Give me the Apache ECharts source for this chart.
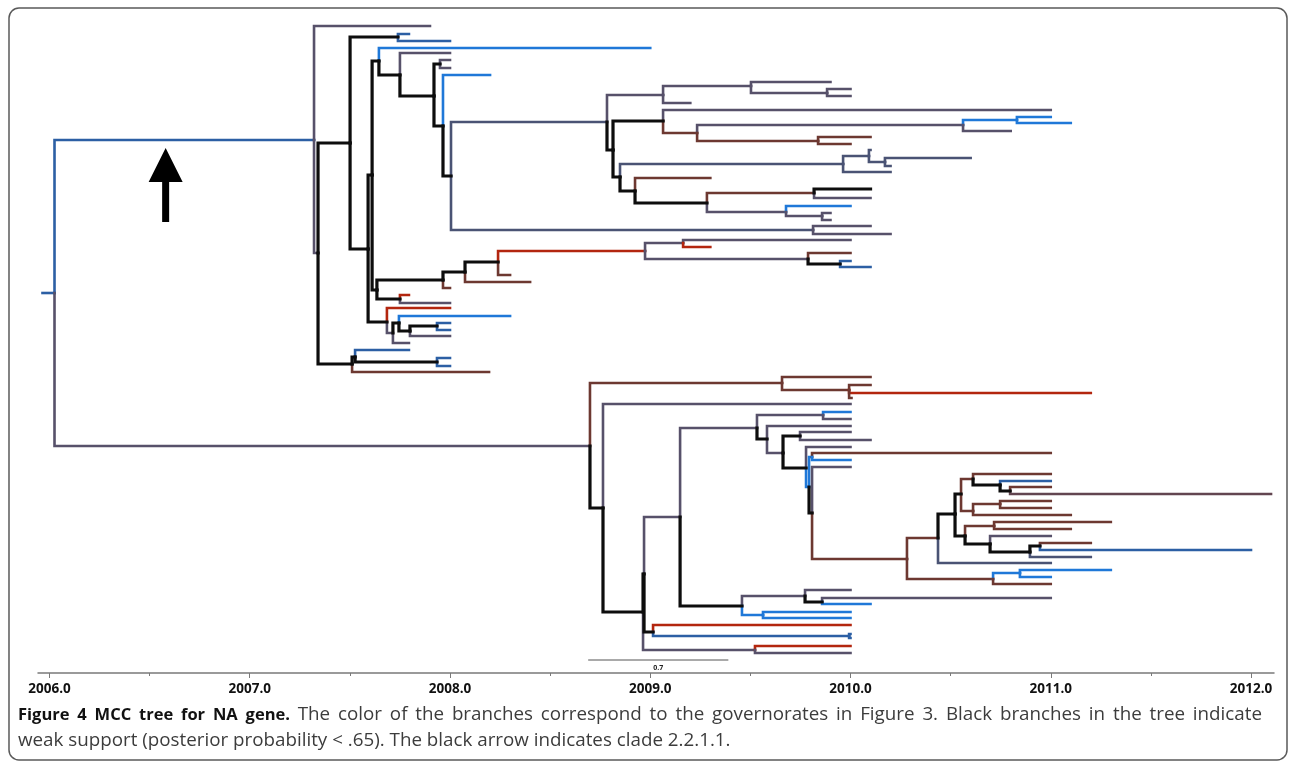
<!DOCTYPE html>
<html>
<head>
<meta charset="utf-8">
<script src="https://cdn.jsdelivr.net/npm/echarts@6/dist/echarts.min.js"></script>
<style>
html,body{margin:0;padding:0;background:#fff;}
#chart{width:1292px;height:767px;}
</style>
</head>
<body>
<div id="chart"></div>
<script>
// ---- Data (time in years, row = vertical tree position) ----
const majorYears = [2006, 2007, 2008, 2009, 2010, 2011, 2012];
const minorYears = [2006.5, 2007.5, 2008.5, 2009.5, 2010.5, 2011.5];

// governorate colour keys
const palette = {
  G: '#57516a',  // grey-purple
  N: '#4a5374',  // slate
  B: '#2c5fa4',  // dark blue
  L: '#1f78d8',  // light blue
  R: '#b3260f',  // red
  W: '#6d3831',  // brown
  M: '#624550',  // brown-grey
  K: '#0d0d0d'   // weak support (black)
};

// [id, parent, time, row, colour]
const rootNodes = [
  ['o', null, 2005.965, 293, 'B'],
  ['r', 'o', 2006.025, 293, 'B']
];
const upperClade = [
  ['A','r',2007.321,140,'B'],
  ['a1','A',2007.9,26,'G'],
  ['A2','A',2007.341,253,'G'],
  ['A3','A2',2007.501,143,'K'],
  ['A3a','A3',2007.740,37,'K'],
  ['l1','A3a',2007.795,34,'B'],
  ['l2','A3a',2008.0,41,'B'],
  ['A4','A3',2007.591,249,'K'],
  ['A5','A4',2007.611,175,'K'],
  ['A6','A5',2007.645,61,'K'],
  ['l3','A6',2009.0,48,'L'],
  ['A7','A6',2007.750,75,'K'],
  ['l4','A7',2008.0,53,'G'],
  ['A8','A7',2007.920,96,'K'],
  ['A9','A8',2007.950,64,'K'],
  ['l5','A9',2008.0,60,'G'],
  ['l6','A9',2008.0,68,'G'],
  ['A10','A8',2007.965,126,'K'],
  ['l7','A10',2008.2,75,'L'],
  ['A11','A10',2008.005,176,'K'],
  ['C','A11',2008.784,122,'N'],
  ['A12','A11',2009.813,230,'N'],
  ['l8','A12',2010.1,226,'G'],
  ['l9','A12',2010.2,234,'G'],
  ['C1','C',2009.064,95,'G'],
  ['C2','C1',2009.503,86,'G'],
  ['l10','C2',2009.9,82,'G'],
  ['C2b','C2',2009.883,93,'G'],
  ['l11','C2b',2010.0,89,'G'],
  ['l12','C2b',2010.0,96,'G'],
  ['l13','C1',2009.2,103,'G'],
  ['C3','C',2008.814,150,'K'],
  ['C4','C3',2009.064,121,'K'],
  ['l14','C4',2011.0,110,'G'],
  ['C5','C4',2009.234,133,'W'],
  ['C5a','C5',2010.562,125,'G'],
  ['C5b','C5a',2010.831,120,'L'],
  ['l15','C5b',2011.0,117,'L'],
  ['l16','C5b',2011.1,123,'L'],
  ['l17','C5a',2010.8,131,'G'],
  ['C5c','C5',2009.838,141,'W'],
  ['l18','C5c',2010.1,137,'W'],
  ['l19','C5c',2010.0,144,'W'],
  ['C6','C3',2008.849,177,'K'],
  ['C7','C6',2009.963,164,'N'],
  ['C8','C7',2010.092,156,'N'],
  ['l20','C8',2010.1,150,'N'],
  ['C9','C8',2010.172,162,'N'],
  ['l21','C9',2010.6,158,'N'],
  ['l22','C9',2010.2,166,'N'],
  ['l23','C7',2010.2,172,'N'],
  ['C10','C6',2008.924,191,'K'],
  ['l24','C10',2009.3,178,'W'],
  ['C11','C10',2009.283,203,'K'],
  ['C12','C11',2009.818,193,'W'],
  ['l25','C12',2010.1,189,'K'],
  ['l26','C12',2010.1,198,'G'],
  ['C13','C11',2009.678,212,'G'],
  ['l27','C13',2010.0,206,'L'],
  ['C14','C13',2009.858,216,'G'],
  ['l28','C14',2009.9,213,'G'],
  ['l29','C14',2009.9,220,'G'],
  ['A13','A5',2007.635,290,'K'],
  ['A14','A13',2007.965,280,'K'],
  ['A15','A14',2008.075,272,'K'],
  ['A16','A15',2008.240,262,'K'],
  ['A17','A16',2008.974,251,'R'],
  ['A18','A17',2009.164,243,'G'],
  ['l30','A18',2010.0,240,'G'],
  ['l31','A18',2009.3,247,'R'],
  ['A19','A17',2009.788,259,'G'],
  ['l32','A19',2010.0,253,'W'],
  ['A20','A19',2009.948,264,'K'],
  ['l33','A20',2010.0,261,'B'],
  ['l34','A20',2010.1,267,'B'],
  ['l35','A16',2008.3,275,'W'],
  ['l36','A15',2008.4,282,'W'],
  ['l37','A14',2008.0,288,'W'],
  ['A21','A13',2007.750,299,'K'],
  ['l38','A21',2007.795,295,'R'],
  ['l39','A21',2008.0,303,'G'],
  ['A22','A4',2007.685,322,'K'],
  ['l40','A22',2008.0,308,'R'],
  ['A23','A22',2007.715,333,'G'],
  ['A24','A23',2007.745,323,'K'],
  ['l41','A24',2008.3,316,'L'],
  ['A25','A24',2007.800,331,'K'],
  ['A26','A25',2007.935,326,'K'],
  ['l42','A26',2008.0,323,'B'],
  ['l43','A26',2008.0,330,'B'],
  ['l44','A25',2008.0,336,'G'],
  ['l45','A23',2007.795,343,'G'],
  ['A27','A2',2007.511,364,'K'],
  ['A28','A27',2007.526,357,'K'],
  ['l46','A28',2007.795,350,'B'],
  ['A29','A28',2007.935,362,'K'],
  ['l47','A29',2008.0,358,'B'],
  ['l48','A29',2008.0,366,'B'],
  ['l49','A27',2008.195,372,'W']
];
const lowerClade = [
  ['B','r',2008.699,446,'G'],
  ['B1','B',2009.658,383,'W'],
  ['l50','B1',2010.1,377,'W'],
  ['B2','B1',2009.993,390,'W'],
  ['l51','B2',2010.1,385,'W'],
  ['l52','B2',2011.2,393,'R'],
  ['l53','B2',2010.005,398,'W'],
  ['B4','B',2008.764,508,'K'],
  ['l54','B4',2010.0,404,'G'],
  ['B5','B4',2008.964,612,'K'],
  ['P','B5',2008.969,574,'K'],
  ['B7','P',2009.149,517,'G'],
  ['B8','B7',2009.533,428,'G'],
  ['B9','B8',2009.863,415,'G'],
  ['l55','B9',2010.0,412,'L'],
  ['l56','B9',2010.0,419,'G'],
  ['B10','B8',2009.583,439,'K'],
  ['l57','B10',2010.0,426,'G'],
  ['B11','B10',2009.663,453,'G'],
  ['B12','B11',2009.748,436,'K'],
  ['l58','B12',2010.0,432,'G'],
  ['l59','B12',2010.1,440,'G'],
  ['B13','B11',2009.778,468,'K'],
  ['l60','B13',2010.0,447,'G'],
  ['B16','B13',2009.793,487,'L'],
  ['B17','B16',2009.808,457,'L'],
  ['l61','B17',2011.0,453,'W'],
  ['l62','B17',2010.0,460,'L'],
  ['B18','B16',2009.808,513,'K'],
  ['l63','B18',2010.0,467,'G'],
  ['B21','B18',2010.282,559,'W'],
  ['B22','B21',2010.437,538,'W'],
  ['B23','B22',2010.522,514,'K'],
  ['B24','B23',2010.552,494,'K'],
  ['B25','B24',2010.612,479,'W'],
  ['l64','B25',2011.0,474,'W'],
  ['B26','B25',2010.747,485,'K'],
  ['l65','B26',2011.0,481,'B'],
  ['B27','B26',2010.797,491,'K'],
  ['l66','B27',2011.0,487,'W'],
  ['l67','B27',2012.1,494,'M'],
  ['B28','B24',2010.612,511,'W'],
  ['B29','B28',2010.747,504,'W'],
  ['l68','B29',2011.0,501,'W'],
  ['l69','B29',2011.0,508,'W'],
  ['l70','B28',2011.1,515,'W'],
  ['B30','B23',2010.572,536,'K'],
  ['B31','B30',2010.717,526,'W'],
  ['l71','B31',2011.3,522,'W'],
  ['l72','B31',2011.1,529,'W'],
  ['B32','B30',2010.697,544,'K'],
  ['l73','B32',2011.0,536,'G'],
  ['B33','B32',2010.896,552,'K'],
  ['B34','B33',2010.946,546,'K'],
  ['l74','B34',2011.2,543,'W'],
  ['l75','B34',2012.0,550,'B'],
  ['l76','B33',2011.2,557,'N'],
  ['l77','B22',2011.0,563,'N'],
  ['B35','B21',2010.712,579,'W'],
  ['B36','B35',2010.846,573,'L'],
  ['l78','B36',2011.3,570,'L'],
  ['l79','B36',2011.0,577,'L'],
  ['l80','B35',2011.0,584,'W'],
  ['B37','B7',2009.458,606,'K'],
  ['B38','B37',2009.773,596,'G'],
  ['l81','B38',2010.0,590,'G'],
  ['B39','B38',2009.858,602,'K'],
  ['l82','B39',2011.0,598,'G'],
  ['l83','B39',2010.1,604,'L'],
  ['B40','B37',2009.563,615,'L'],
  ['l84','B40',2010.0,612,'L'],
  ['l85','B40',2010.0,618,'L'],
  ['B41','P',2009.014,632,'K'],
  ['l86','B41',2010.0,625,'R'],
  ['B42','B41',2009.993,636,'B'],
  ['l87','B42',2010.0,634,'B'],
  ['l88','B42',2010.0,638,'B'],
  ['B43','B5',2009.523,650,'G'],
  ['l89','B43',2010.0,646,'R'],
  ['l90','B43',2010.0,653,'G']
];

// annotations (data coordinates)
const arrowAt = { time: 2006.58, rowTip: 148, rowBase: 222 };
const scaleBar = { from: 2008.69, to: 2009.39, row: 660, label: '0.7' };
const captionBold = 'Figure 4 MCC tree for NA gene.';
const captionRest1 = 'The color of the branches correspond to the governorates in Figure 3. Black branches in the tree indicate';
const captionLine2 = 'weak support (posterior probability < .65). The black arrow indicates clade 2.2.1.1.';

// ---- Build ----
const allNodes = rootNodes.concat(upperClade, lowerClade);
const byId = {};
allNodes.forEach(n => { byId[n[0]] = n; });

const branches = [];
allNodes.forEach(n => {
  const p = n[1] ? byId[n[1]] : null;
  if (!p) return;
  const black = n[4] === 'K';
  branches.push({
    black: black,
    coords: [[p[2], p[3]], [p[2], n[3]], [n[2], n[3]]],
    lineStyle: { color: palette[n[4]], width: black ? 3.2 : 2.6 }
  });
});
branches.sort((a, b) => (a.black ? 1 : 0) - (b.black ? 1 : 0));

const chart = echarts.init(document.getElementById('chart'), null, { renderer: 'canvas' });

const xMin = 2006 + (38 - 49.5) / 200.25;
const xMax = 2006 + (1274 - 49.5) / 200.25;

chart.setOption({
  animation: false,
  backgroundColor: '#ffffff',
  grid: { left: 38, right: 18, top: 0, bottom: 94, containLabel: false },
  xAxis: [{
    type: 'value', min: xMin, max: xMax, position: 'bottom',
    axisLine: { show: true, onZero: false, lineStyle: { color: '#7a7a7a', width: 1.5 } },
    axisTick: { show: true, customValues: majorYears, length: 5, lineStyle: { color: '#7a7a7a', width: 1 } },
    axisLabel: {
      show: true, customValues: majorYears, margin: 9,
      formatter: v => Number(v).toFixed(1),
      color: '#111', fontFamily: 'Open Sans', fontWeight: 'bold', fontSize: 13.5
    },
    splitLine: { show: false }
  }, {
    type: 'value', min: xMin, max: xMax, position: 'bottom', gridIndex: 0,
    axisLine: { show: false, onZero: false },
    axisTick: { show: true, customValues: minorYears, length: 3, lineStyle: { color: '#7a7a7a', width: 1 } },
    axisLabel: { show: false },
    splitLine: { show: false }
  }],
  yAxis: { type: 'value', min: 0, max: 673, inverse: true, show: false, splitLine: { show: false } },
  series: [{
    type: 'lines',
    coordinateSystem: 'cartesian2d',
    xAxisIndex: 0, yAxisIndex: 0,
    polyline: true,
    silent: true,
    lineStyle: { join: 'miter', cap: 'square', opacity: 1 },
    data: branches.map(b => ({ coords: b.coords, lineStyle: b.lineStyle }))
  }]
});

// annotations placed from data coordinates
const px = (t, row) => chart.convertToPixel({ xAxisIndex: 0, yAxisIndex: 0 }, [t, row]);
const tip = px(arrowAt.time, arrowAt.rowTip);
const base = px(arrowAt.time, arrowAt.rowBase);
const headH = 34, headW = 17, shaftW = 3.5;
const sb0 = px(scaleBar.from, scaleBar.row);
const sb1 = px(scaleBar.to, scaleBar.row);

// justified first caption line
const fontBold = 'bold 16.5px "Open Sans"';
const fontReg = '18.8px "Open Sans"';
const ctx = document.createElement('canvas').getContext('2d');
const words = [];
captionBold.split(' ').forEach(w => words.push({ t: w, f: fontBold, c: '#111' }));
captionRest1.split(' ').forEach(w => words.push({ t: w, f: fontReg, c: '#3c3c3c' }));
let total = 0;
words.forEach(w => { ctx.font = w.f; w.w = ctx.measureText(w.t).width; total += w.w; });
const lineLeft = 18, lineRight = 1262;
const gap = (lineRight - lineLeft - total) / (words.length - 1);
let cx = lineLeft;
const captionEls = [];
words.forEach(w => {
  captionEls.push({ type: 'text', x: cx, y: 715, z: 10, silent: true,
    style: { text: w.t, font: w.f, fill: w.c, align: 'left', verticalAlign: 'middle' } });
  cx += w.w + gap;
});
captionEls.push({ type: 'text', x: lineLeft, y: 741, z: 10, silent: true,
  style: { text: captionLine2, font: fontReg, fill: '#3c3c3c', align: 'left', verticalAlign: 'middle' } });

chart.setOption({
  graphic: [
    { type: 'rect', shape: { x: 9, y: 8, width: 1278, height: 752, r: 10 },
      style: { fill: 'none', stroke: '#5a5a5a', lineWidth: 1.5 }, z: 1, silent: true },
    { type: 'polygon', shape: { points: [
        [tip[0], tip[1]], [tip[0] + headW, tip[1] + headH], [tip[0] + shaftW, tip[1] + headH],
        [tip[0] + shaftW, base[1]], [tip[0] - shaftW, base[1]], [tip[0] - shaftW, tip[1] + headH],
        [tip[0] - headW, tip[1] + headH]] },
      style: { fill: '#000' }, z: 10, silent: true },
    { type: 'line', shape: { x1: sb0[0], y1: sb0[1], x2: sb1[0], y2: sb1[1] },
      style: { stroke: '#555', lineWidth: 1 }, z: 10, silent: true },
    { type: 'text', x: (sb0[0] + sb1[0]) / 2, y: sb0[1] + 4,
      style: { text: scaleBar.label, fill: '#222', font: 'bold 7px "Open Sans"', align: 'center', verticalAlign: 'top' }, z: 10, silent: true }
  ].concat(captionEls)
});
</script>
</body>
</html>
